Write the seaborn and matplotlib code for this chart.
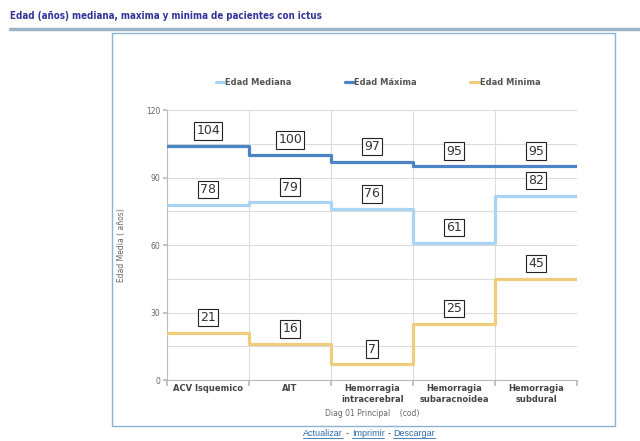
import numpy as np
import pandas as pd
import matplotlib
matplotlib.use('Agg')
import matplotlib.pyplot as plt
from matplotlib.lines import Line2D
from matplotlib.patches import Rectangle
import seaborn as sns

categories = ['ACV Isquemico', 'AIT', 'Hemorragia\nintracerebral',
              'Hemorragia\nsubaracnoidea', 'Hemorragia\nsubdural']
edad_mediana = [78, 79, 76, 61, 82]
edad_maxima = [104, 100, 97, 95, 95]
edad_minima = [21, 16, 7, 25, 45]
series_names = ['Edad Mediana', 'Edad Máxima', 'Edad Minima']
colors = {'Edad Mediana': '#a9d4f3', 'Edad Máxima': '#4a84c6', 'Edad Minima': '#f0cd7c'}
links = ['Actualizar', 'Imprimir', 'Descargar']


def build_frame():
    rows = []
    for name, vals in zip(series_names, [edad_mediana, edad_maxima, edad_minima]):
        # repeat last value so the final step reaches the right edge
        ext = list(vals) + [vals[-1]]
        for i, v in enumerate(ext):
            rows.append({'pos': i, 'edad': v, 'serie': name})
    return pd.DataFrame(rows)


def main():
    sns.set_theme(style='white')
    plt.rcParams['font.family'] = ['DejaVu Sans']

    df = build_frame()
    fig = plt.figure(figsize=(6.4, 4.41), dpi=100)
    ax = fig.add_axes([0.261, 0.138, 0.641, 0.612])

    for y in np.arange(0, 121, 15):
        ax.axhline(y, color='#dcdcdc', lw=0.8, zorder=0)
    for x in range(0, 6):
        ax.axvline(x, color='#dcdcdc', lw=0.8, zorder=0)

    sns.lineplot(data=df, x='pos', y='edad', hue='serie', palette=colors,
                 drawstyle='steps-post', lw=2.3, estimator=None, sort=False,
                 legend=False, ax=ax, zorder=3)

    for vals in [edad_mediana, edad_maxima, edad_minima]:
        for i, v in enumerate(vals):
            ax.annotate(str(v), (i + 0.5, v), xytext=(0, 11), textcoords='offset points',
                        ha='center', va='center', fontsize=9, color='#333333', zorder=5,
                        bbox=dict(boxstyle='square,pad=0.18', fc='white', ec='#222222', lw=0.8))

    ax.set_xlim(0, 5)
    ax.set_ylim(0, 120)
    ax.set_yticks([0, 30, 60, 90, 120])
    ax.tick_params(axis='y', labelsize=5.5, labelcolor='#666666', length=3,
                   color='#bbbbbb', pad=2, left=True)
    ax.set_xticks(range(0, 6))
    ax.set_xticklabels([])
    ax.tick_params(axis='x', which='major', length=4, color='#bbbbbb', bottom=True)
    ax.set_xticks(np.arange(5) + 0.5, minor=True)
    ax.set_xticklabels(categories, minor=True, fontsize=6, fontweight='bold',
                       color='#444444', linespacing=1.3)
    ax.tick_params(axis='x', which='minor', length=0, pad=3)

    for s in ['top', 'right']:
        ax.spines[s].set_visible(False)
    for s in ['left', 'bottom']:
        ax.spines[s].set_color('#bbbbbb')
        ax.spines[s].set_linewidth(0.8)

    ax.set_ylabel('Edad Media ( años)', fontsize=5.5, color='#666666', labelpad=14)
    ax.set_xlabel('Diag 01 Principal    (cod)', fontsize=5.5, color='#666666', labelpad=3)

    handles = [Line2D([], [], color=colors[n], lw=2.3) for n in series_names]
    leg = ax.legend(handles, series_names, ncol=3, loc='lower left',
                    bbox_to_anchor=(0.1, 1.06), frameon=False, handlelength=1.1,
                    handletextpad=0.05, columnspacing=6.4,
                    prop={'size': 6, 'weight': 'bold'})
    for t in leg.get_texts():
        t.set_color('#555555')

    # chart frame
    fig.patches.append(Rectangle((112 / 640, 1 - 426 / 441), 503 / 640, 393 / 441,
                                 transform=fig.transFigure, fill=False,
                                 ec='#8fb2d2', lw=1.0))

    # page title and rule
    fig.text(10 / 640, 1 - 16 / 441, 'Edad (años) mediana, maxima y minima de pacientes con ictus',
             fontsize=7, fontweight='bold', color='#333399', va='center',
             family='DejaVu Sans', fontstretch='condensed')
    fig.add_artist(Line2D([10 / 640, 1.0], [1 - 28.5 / 441] * 2, transform=fig.transFigure,
                          color='#9fb3c8', lw=2.5))

    # links under the chart, underlined by hand
    link_color = '#2b6cb0'
    ypos = 1 - 434 / 441
    x = 303 / 640
    renderer = fig.canvas.get_renderer()
    for k, word in enumerate(links):
        t = fig.text(x, ypos, word, fontsize=6.5, color=link_color, va='center',
                     family='Liberation Sans')
        bb = t.get_window_extent(renderer).transformed(fig.transFigure.inverted())
        fig.add_artist(Line2D([bb.x0, bb.x1], [bb.y0 + 0.001] * 2, transform=fig.transFigure,
                              color=link_color, lw=0.6))
        x = bb.x1
        if k < len(links) - 1:
            d = fig.text(x + 3 / 640, ypos, '-', fontsize=6.5, color='#333333', va='center',
                         family='Liberation Sans')
            x = d.get_window_extent(renderer).transformed(fig.transFigure.inverted()).x1 + 3 / 640

    fig.savefig('out.png', dpi=100)


if __name__ == '__main__':
    main()
